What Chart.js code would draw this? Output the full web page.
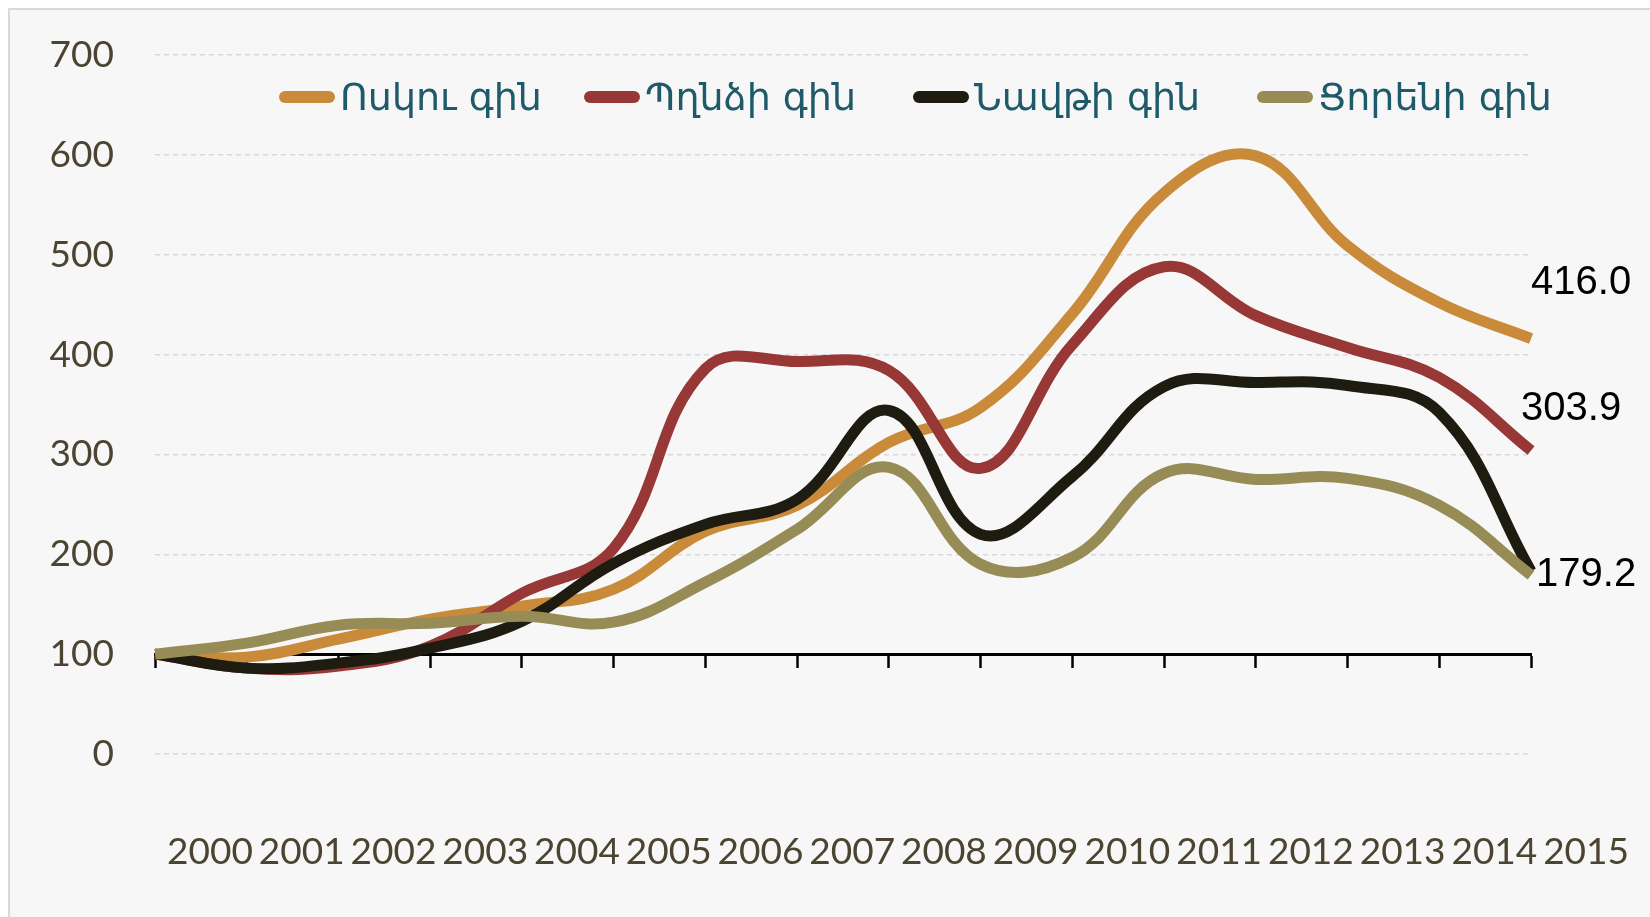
<!DOCTYPE html>
<html>
<head>
<meta charset="utf-8">
<script src="https://cdn.jsdelivr.net/npm/chart.js@4.4.1/dist/chart.umd.min.js"></script>
<style>
  html, body { margin: 0; padding: 0; background: #fff; overflow: hidden; }
  #frame { position: absolute; left: 8px; top: 8px; width: 1680px; height: 940px; background: #f7f7f7; border: 2px solid #d9d9d9; }
  #chart { position: absolute; left: 0; top: 0; }
  #legend { position: absolute; left: 279px; top: 75px; display: flex; align-items: center; font-family: 'DejaVu Sans', sans-serif; font-size: 38px; color: #1f5a6a; white-space: nowrap; }
  .item { display: flex; align-items: center; }
  .item:nth-child(1) { width: 305px; }
  .item:nth-child(2) { width: 329px; }
  .item:nth-child(3) { width: 344px; }
  .swatch { width: 56px; height: 12px; border-radius: 6px; margin-right: 5px; }
</style>
</head>
<body>
<div id="frame"></div>
<canvas id="chart" width="1650" height="917"></canvas>
<div id="legend"></div>
<script>
const years = ['2000', '2001', '2002', '2003', '2004', '2005', '2006', '2007',
  '2008', '2009', '2010', '2011', '2012', '2013', '2014', '2015'];
const goldPrice = [100, 97, 115, 135, 148, 165, 223, 249, 312, 347, 441, 562, 599, 509, 452, 416.0];
const copperPrice = [100, 86, 88, 108, 161, 206, 386, 393, 384, 286, 410, 488, 439, 407, 377, 303.9];
const oilPrice = [100, 86, 91, 106, 133, 191, 230, 255, 344, 220, 278, 368, 372, 369, 342, 183];
const wheatPrice = [100, 111, 129, 131, 138, 132, 172, 225, 287, 190, 197, 281, 275, 276, 249, 179.2];
const seriesNames = ['Ոսկու գին', 'Պղնձի գին', 'Նավթի գին', 'Ցորենի գին'];
const seriesColors = ['#c98a3a', '#973837', '#1e1b10', '#978c55'];
const yMin = 0;
const yMax = 700;
const yStep = 100;

const tickColor = '#4b4431';
const tickFont = { family: 'Lato, sans-serif', size: 37 };

const endLabels = {
  id: 'endLabels',
  afterDatasetsDraw(chart, args, opts) {
    const ctx = chart.ctx;
    ctx.save();
    ctx.font = opts.font;
    ctx.fillStyle = opts.color;
    ctx.textBaseline = 'middle';
    opts.items.forEach((item) => {
      const meta = chart.getDatasetMeta(item.dataset);
      const last = meta.data.length - 1;
      const pt = meta.data[last];
      const value = chart.data.datasets[item.dataset].data[last];
      ctx.textAlign = item.align;
      ctx.fillText(value.toFixed(1), pt.x + item.dx, pt.y + item.dy);
    });
    ctx.restore();
  }
};

const buildLegend = (chart) => {
  const box = document.getElementById('legend');
  chart.data.datasets.forEach((ds) => {
    const item = document.createElement('div');
    item.className = 'item';
    const swatch = document.createElement('div');
    swatch.className = 'swatch';
    swatch.style.background = ds.borderColor;
    const text = document.createElement('span');
    text.textContent = ds.label;
    item.appendChild(swatch);
    item.appendChild(text);
    box.appendChild(item);
  });
};

const series = [goldPrice, copperPrice, oilPrice, wheatPrice];

const chart = new Chart(document.getElementById('chart'), {
  type: 'line',
  data: {
    labels: years,
    datasets: series.map((values, i) => ({
      label: seriesNames[i],
      data: values,
      borderColor: seriesColors[i],
      backgroundColor: seriesColors[i],
      borderWidth: 11,
      pointRadius: 0,
      tension: 0.4,
      fill: false,
      order: series.length - i
    }))
  },
  options: {
    responsive: false,
    animation: false,
    layout: { padding: { top: 55, right: 110, left: 0, bottom: 0 } },
    scales: {
      x: {
        type: 'category',
        position: { y: 100 },
        grid: { display: true, drawOnChartArea: false, drawTicks: true, tickLength: 12, tickWidth: 2.5, tickColor: '#000' },
        border: { display: true, color: '#000', width: 3 },
        ticks: { display: false }
      },
      xLabels: {
        type: 'category',
        position: 'bottom',
        labels: years,
        grid: { display: false, drawTicks: false },
        border: { display: false },
        ticks: { labelOffset: 55, padding: 76, autoSkip: false, maxRotation: 0, color: tickColor, font: tickFont },
        afterFit: (scale) => { scale.height = 163; }
      },
      y: {
        min: yMin,
        max: yMax,
        ticks: { stepSize: yStep, padding: 41, color: tickColor, font: tickFont },
        grid: { color: '#d9d9d9', lineWidth: 1.5, drawTicks: false },
        border: { display: false, dash: [5, 4] },
        afterFit: (scale) => {
          // keep the label gap from pushing the plot area down
          scale.width = 155;
          scale.paddingTop = 22;
          scale.paddingBottom = 22;
        }
      }
    },
    plugins: {
      legend: { display: false },
      tooltip: { enabled: false },
      endLabels: {
        font: '40px "Liberation Sans", Arial, sans-serif',
        color: '#000',
        items: [
          { dataset: 0, align: 'left', dx: 0, dy: -56 },
          { dataset: 1, align: 'center', dx: 40, dy: -42 },
          { dataset: 3, align: 'left', dx: 5, dy: 0 }
        ]
      }
    }
  },
  plugins: [endLabels]
});

buildLegend(chart);
</script>
</body>
</html>
